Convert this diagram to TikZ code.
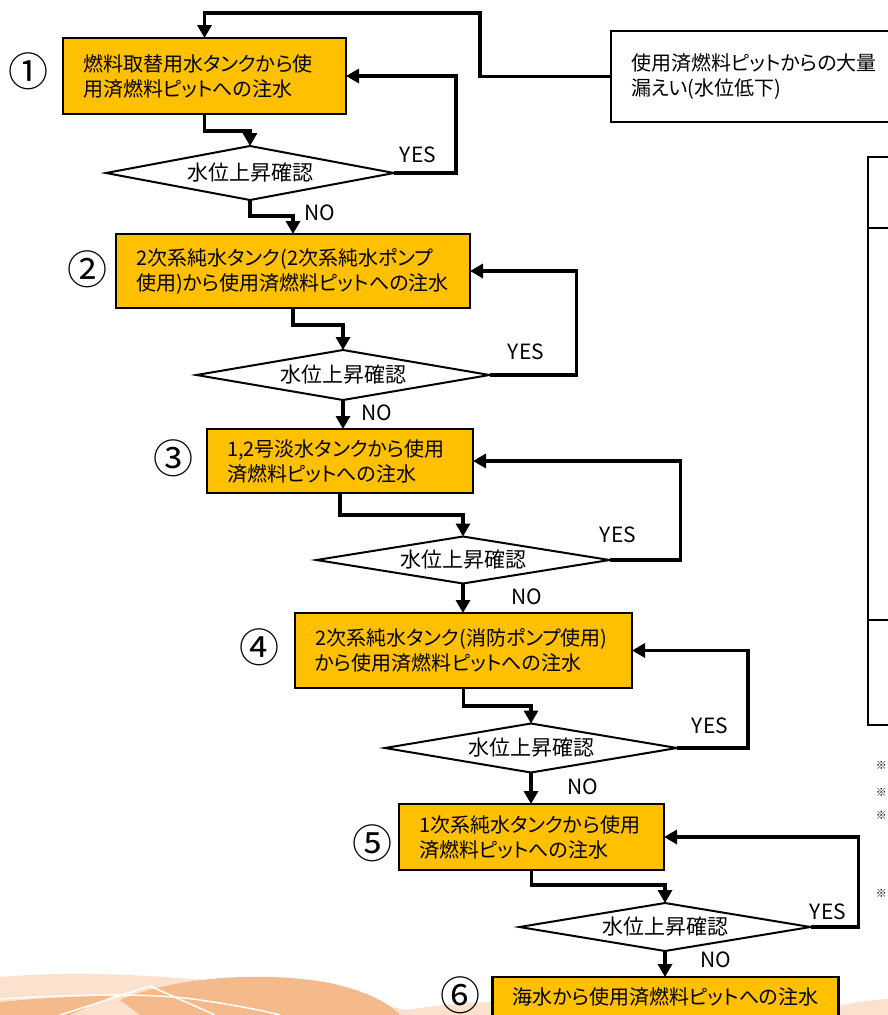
\documentclass[tikz,border=0pt]{standalone}
\usepackage{fontspec}
\usepackage{tikz}
\usetikzlibrary{arrows.meta,shapes.geometric}
\newfontfamily\jpfont{Noto Sans CJK JP}[RawFeature={+palt}]
\definecolor{boxorange}{RGB}{255,192,0}
\definecolor{wavelight}{RGB}{251,225,206}
\definecolor{wavedark}{RGB}{245,186,140}

\begin{document}
\begin{tikzpicture}[x=1pt,y=-1pt,
    >={Triangle[length=13pt,width=14pt]},
    tankbox/.style={draw,line width=2.4pt,fill=boxorange,inner xsep=20pt,inner ysep=0pt,outer sep=0pt,align=left,font=\jpfont\fontsize{20}{25}\selectfont},
    decide/.style={draw,diamond,aspect=6,line width=2pt,fill=white,inner sep=0pt,outer sep=0pt,font=\jpfont\fontsize{21}{24}\selectfont},
    flow/.style={->,line width=3.3pt},
    ans/.style={font=\jpfont\fontsize{21}{24}\selectfont},
    num/.style={font=\jpfont\fontsize{40}{44}\selectfont},
    note/.style={anchor=east,inner sep=0pt,font=\jpfont\fontsize{11}{12}\selectfont}]
    \path[use as bounding box,clip] (0,0) rectangle (888,1015);
    \fill[wavelight] (0,977) .. controls (100,968) and (260,978) .. (430,1015) -- (0,1015) -- cycle;
    \fill[wavelight] (380,1015) .. controls (420,1006) and (470,1002) .. (500,1002) -- (500,1015) -- cycle;
    \fill[wavelight] (830,1008) .. controls (850,1003) and (870,1000) .. (888,999) -- (888,1015) -- (830,1015) -- cycle;
    \fill[wavedark] (120,1000) .. controls (170,978) and (260,970) .. (330,983) .. controls (370,992) and (390,1004) .. (400,1015) -- (140,1015) -- cycle;
    \fill[wavedark] (0,1002) .. controls (40,998) and (80,996) .. (112,996) -- (70,1015) -- (0,1015) -- cycle;
    \draw[white,line width=1.5pt] (0,999) .. controls (60,995) and (150,992) .. (200,1000) .. controls (240,1006) and (260,1010) .. (280,1015);
    \draw[white,line width=1.5pt] (60,1015) -- (150,986) -- (215,1015);
    \draw[line width=2pt] (900,157) -- (868,157) -- (868,725) -- (900,725);
    \draw[line width=2pt] (868,228) -- (900,228);
    \draw[line width=2pt] (868,620) -- (900,620);
    \foreach \y in {765,792,815,893}
        \node[note] (kome\y) at (887,\y) {※};

    \node[tankbox,fill=white,minimum width=294pt,minimum height=91pt,text width=254pt] (leak) at (758,76.5) {使用済燃料ピットからの大量\\漏えい(水位低下)};
    \node[tankbox,minimum width=283pt,minimum height=76pt,text width=243pt] (tank1) at (204.5,76) {燃料取替用水タンクから使\\用済燃料ピットへの注水};
    \node[tankbox,minimum width=354pt,minimum height=74pt,text width=314pt] (tank2) at (293,271) {2次系純水タンク(2次系純水ポンプ\\使用)から使用済燃料ピットへの注水};
    \node[tankbox,minimum width=266pt,minimum height=64pt,text width=226pt] (tank3) at (340,461) {1,2号淡水タンクから使用\\済燃料ピットへの注水};
    \node[tankbox,minimum width=337pt,minimum height=75pt,text width=297pt] (tank4) at (463.5,650.5) {2次系純水タンク(消防ポンプ使用)\\から使用済燃料ピットへの注水};
    \node[tankbox,minimum width=265pt,minimum height=66pt,text width=225pt] (tank5) at (531.5,837) {1次系純水タンクから使用\\済燃料ピットへの注水};
    \node[tankbox,minimum width=339pt,minimum height=40pt] (tank6) at (665.5,997) {海水から使用済燃料ピットへの注水};

    \node[decide,minimum width=288pt,minimum height=54pt] (level1) at (250,173) {水位上昇確認};
    \node[decide,minimum width=293pt,minimum height=50pt] (level2) at (343,375) {水位上昇確認};
    \node[decide,minimum width=293pt,minimum height=47pt] (level3) at (463,560) {水位上昇確認};
    \node[decide,minimum width=292pt,minimum height=49pt] (level4) at (531,748) {水位上昇確認};
    \node[decide,minimum width=291pt,minimum height=48pt] (level5) at (665,927) {水位上昇確認};

    \node[num] (n1) at (28.5,71) {①};
    \node[num] (n2) at (87,269) {②};
    \node[num] (n3) at (173,458) {③};
    \node[num] (n4) at (259,647) {④};
    \node[num] (n5) at (372,843) {⑤};
    \node[num] (n6) at (460,995) {⑥};

    \coordinate (top) at (480,13);
    \draw[flow] (leak.west) -| (top) -| (tank1.north);
    \draw[flow] (tank1.south) -- ++(0,17) -| (level1.north);
    \draw[flow] (level1.east) -- ++(62,0) |- (tank1.east);
    \draw[flow] (level1.south) -- ++(0,16) -| (tank2.north);
    \draw[flow] (tank2.south) -- ++(0,17) -| (level2.north);
    \draw[flow] (level2.east) -- ++(87,0) |- (tank2.east);
    \draw[flow] (level2.south) -- (level2.south |- tank3.north);
    \draw[flow] (tank3.south) -- ++(0,22) -| (level3.north);
    \draw[flow] (level3.east) -- ++(71,0) |- (tank3.east);
    \draw[flow] (level3.south) -- (level3.south |- tank4.north);
    \draw[flow] (tank4.south) -- ++(0,18) -| (level4.north);
    \draw[flow] (level4.east) -- ++(71,0) |- (tank4.east);
    \draw[flow] (level4.south) -- (level4.south |- tank5.north);
    \draw[flow] (tank5.south) -- ++(0,15) -| (level5.north);
    \draw[flow] (level5.east) -- ++(48,0) |- (tank5.east);
    \draw[flow] (level5.south) -- (level5.south |- tank6.north);

    \node[ans] (yes1) at (418,155) {YES};
    \node[ans] (yes2) at (526,352) {YES};
    \node[ans] (yes3) at (618,535) {YES};
    \node[ans] (yes4) at (710,726) {YES};
    \node[ans] (yes5) at (828,912) {YES};
    \node[ans] (no1) at (320,213) {NO};
    \node[ans] (no2) at (377,413) {NO};
    \node[ans] (no3) at (527,597) {NO};
    \node[ans] (no4) at (583,787) {NO};
    \node[ans] (no5) at (716,960) {NO};
\end{tikzpicture}
\end{document}
